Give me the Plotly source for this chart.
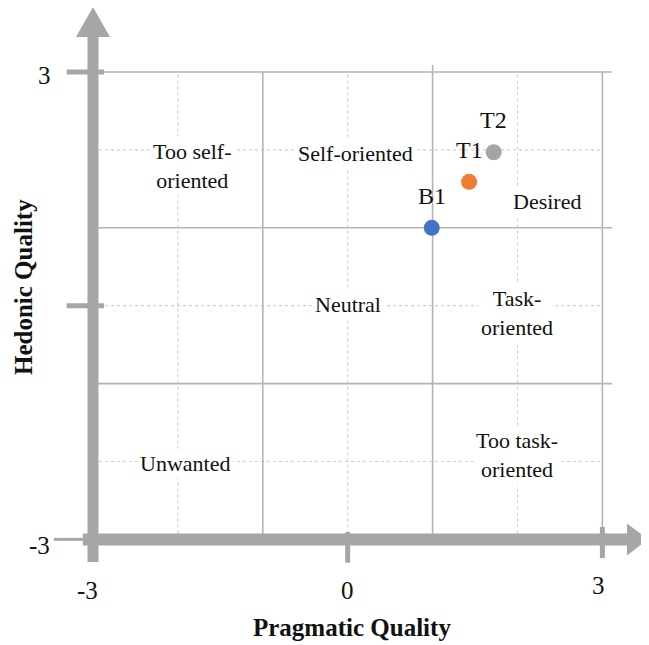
import plotly.graph_objects as go

# ---- data ----
point_names = ["B1", "T1", "T2"]
pragmatic = [0.99, 1.43, 1.72]
hedonic = [1.00, 1.59, 1.97]
point_colors = ["#4472C4", "#ED7D31", "#A5A5A5"]

x_tick_vals = [-3, 0, 3]
x_tick_text = ["-3", "0", "3"]
y_tick_vals = [3, -3]
y_tick_text = ["3", "-3"]

region_labels = ["Too self-<br>oriented", "Self-oriented", "Desired", "Neutral",
                 "Task-<br>oriented", "Unwanted", "Too task-<br>oriented"]

# ---- style ----
FONT = "Liberation Serif, Times New Roman, serif"
AXIS_GRAY = "#A6A6A6"
GRID = "#B4B4B4"
DASH = "#CFCFCF"

XR = [-3.624, 3.549]
YR = [-3.56, 3.822]

fig = go.Figure()

fig.add_trace(go.Scatter(
    x=pragmatic, y=hedonic, mode="markers",
    marker=dict(size=16, color=point_colors, line=dict(width=0)),
    showlegend=False, hoverinfo="skip"))

shapes = []
def line(x0, y0, x1, y1, color, width, dash="solid"):
    shapes.append(dict(type="line", xref="x", yref="y", x0=x0, y0=y0, x1=x1, y1=y1,
                       line=dict(color=color, width=width, dash=dash), layer="below"))

# dashed grid
for v in [-2, 0, 2]:
    line(v, -3, v, 3, DASH, 1.2, "3px,3px")
    line(-3, v, 3, v, DASH, 1.2, "3px,3px")
# solid grid
for v in [-1, 1, 3]:
    line(v, -3, v, 3, GRID, 1.6)
for v in [3, 1, -1]:
    line(-3, v, 3.115, v, GRID, 1.6)
line(1, 3, 1, 3.09, GRID, 1.6)

# thick axes
line(-3, -3.29, -3, 3.45, AXIS_GRAY, 11)
line(-3.12, -3, 3.29, -3, AXIS_GRAY, 12)
# tick marks
line(-3.31, 3, -2.87, 3, AXIS_GRAY, 5)
line(-3.31, 0, -2.87, 0, AXIS_GRAY, 5)
line(-3.46, -3, -3.1, -3, AXIS_GRAY, 3)
line(0, -2.905, 0, -3.30, AXIS_GRAY, 5)
line(3, -2.84, 3, -3.24, AXIS_GRAY, 5)

# arrow heads
shapes.append(dict(type="path", xref="x", yref="y", xsizemode="pixel", ysizemode="pixel",
                   xanchor=-3, yanchor=3.45, path="M -17,0 L 17,0 L 0,30 Z",
                   fillcolor=AXIS_GRAY, line=dict(width=0), layer="below"))
shapes.append(dict(type="path", xref="x", yref="y", xsizemode="pixel", ysizemode="pixel",
                   xanchor=3.29, yanchor=-3, path="M 0,-16 L 0,16 L 21,0 Z",
                   fillcolor=AXIS_GRAY, line=dict(width=0), layer="below"))

annotations = []
# region labels
region_pos = [(-1.83, 1.79), (0.09, 1.96), (2.35, 1.34), (0.0, 0.02),
              (1.99, -0.09), (-1.92, -2.02), (1.99, -1.92)]
for txt, (px, py) in zip(region_labels, region_pos):
    annotations.append(dict(x=px, y=py, xref="x", yref="y", text=txt, showarrow=False,
                            xanchor="center", yanchor="middle",
                            font=dict(family=FONT, size=22, color="#111111"),
                            bgcolor="white", borderpad=2, align="center"))

# point labels
for n, px, py in zip(point_names, pragmatic, hedonic):
    annotations.append(dict(x=px, y=py, xref="x", yref="y", text=n, showarrow=False,
                            xanchor="center", yanchor="middle",
                            yshift=32, font=dict(family=FONT, size=24, color="#111111")))

# tick labels
x_shifts = [(-5, -51), (0, -51), (-4, -46)]
for v, t, (xs, ys) in zip(x_tick_vals, x_tick_text, x_shifts):
    annotations.append(dict(x=v, y=-3, xref="x", yref="y", text=t, showarrow=False,
                            xanchor="center", yanchor="middle",
                            xshift=xs, yshift=ys, font=dict(family=FONT, size=25, color="#111111")))
y_shifts = [(-48, -3), (-53, -6)]
for v, t, (xs, ys) in zip(y_tick_vals, y_tick_text, y_shifts):
    annotations.append(dict(x=-3, y=v, xref="x", yref="y", text=t, showarrow=False,
                            xanchor="center", yanchor="middle",
                            xshift=xs, yshift=ys, font=dict(family=FONT, size=25, color="#111111")))

# axis titles
annotations.append(dict(x=0.512, y=-0.078, xref="paper", yref="paper", text="<b>Pragmatic Quality</b>",
                        xanchor="center", yanchor="middle",
                        showarrow=False, font=dict(family=FONT, size=25, color="#111111")))
annotations.append(dict(x=-0.026, y=0.515, xref="paper", yref="paper", text="<b>Hedonic Quality</b>",
                        xanchor="center", yanchor="middle",
                        showarrow=False, textangle=-90, font=dict(family=FONT, size=25, color="#111111")))

fig.update_layout(
    width=641, height=637,
    margin=dict(l=32, r=0, t=0, b=62),
    paper_bgcolor="white", plot_bgcolor="white",
    xaxis=dict(range=XR, visible=False, fixedrange=True),
    yaxis=dict(range=YR, visible=False, fixedrange=True),
    shapes=shapes, annotations=annotations,
)

fig.write_html("out.html")
